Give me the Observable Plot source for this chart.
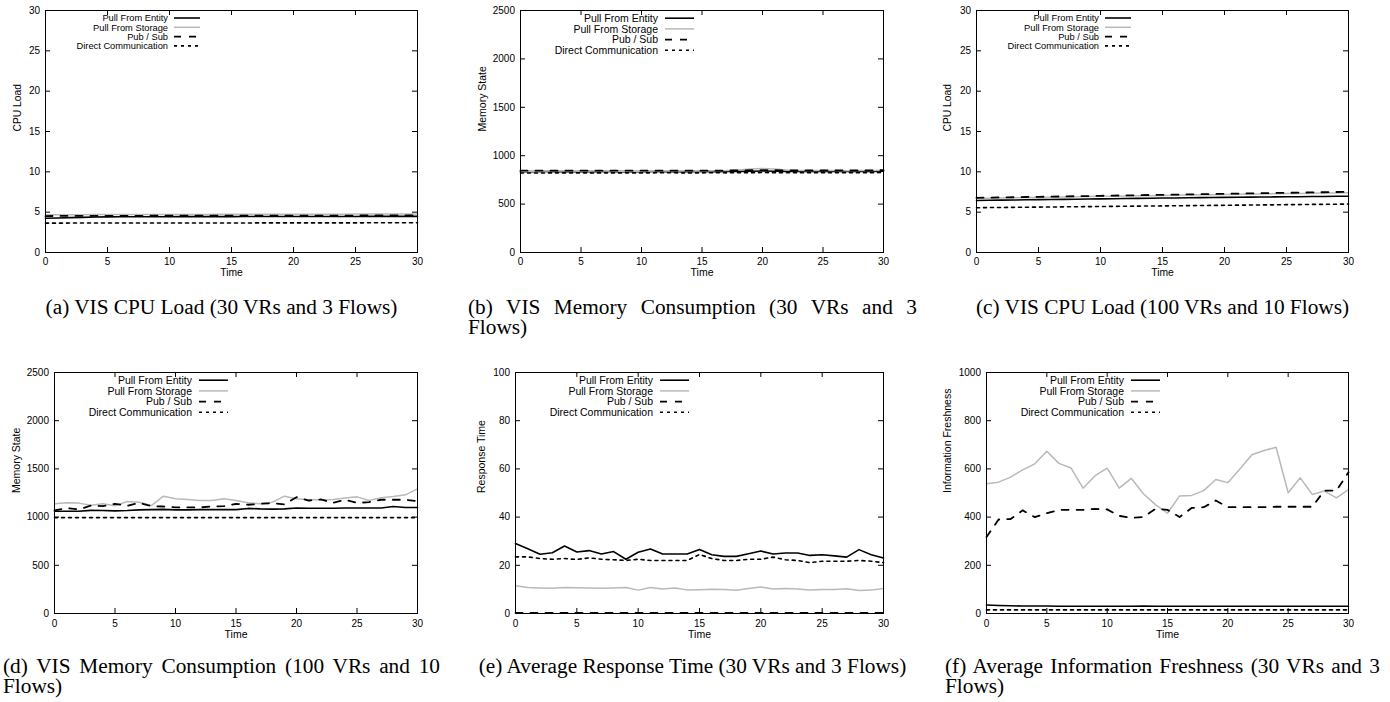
<!DOCTYPE html>
<html><head><meta charset="utf-8">
<script src="https://cdn.jsdelivr.net/npm/d3@7"></script>
<script src="https://cdn.jsdelivr.net/npm/@observablehq/plot@0.6"></script>
<style>
html,body{margin:0;padding:0;background:#fff}
body{width:1390px;height:702px;position:relative;overflow:hidden}
.panel{position:absolute}
.cap{position:absolute;font-family:"Liberation Serif","Times New Roman",serif;font-size:21.3px;line-height:20px;color:#000}
.cap.c{text-align:center}
.cap.j{text-align:justify}
</style></head><body>
<script>
// ---------------- DATA ----------------
const time = [0,1,2,3,4,5,6,7,8,9,10,11,12,13,14,15,16,17,18,19,20,21,22,23,24,25,26,27,28,29,30];
const seriesNames = ["Pull From Entity","Pull From Storage","Pub / Sub","Direct Communication"];
const xTicks = [0,5,10,15,20,25,30];

// (a) VIS CPU Load (30 VRs and 3 Flows)
const aEntity  = [4.25,4.28,4.32,4.36,4.40,4.42,4.43,4.43,4.44,4.44,4.44,4.45,4.45,4.45,4.45,4.45,4.46,4.46,4.46,4.46,4.46,4.47,4.47,4.47,4.47,4.47,4.48,4.48,4.48,4.48,4.48];
const aStorage = [4.68,4.68,4.69,4.69,4.70,4.70,4.70,4.71,4.71,4.71,4.72,4.72,4.72,4.72,4.73,4.73,4.73,4.73,4.74,4.74,4.74,4.74,4.75,4.75,4.75,4.76,4.76,4.76,4.77,4.77,4.78];
const aPubSub  = [4.52,4.53,4.53,4.54,4.54,4.55,4.55,4.55,4.55,4.56,4.56,4.56,4.56,4.56,4.57,4.57,4.57,4.57,4.57,4.57,4.58,4.58,4.58,4.58,4.58,4.58,4.59,4.59,4.59,4.59,4.60];
const aDirect  = [3.64,3.64,3.65,3.65,3.65,3.65,3.65,3.65,3.66,3.66,3.66,3.66,3.66,3.66,3.66,3.66,3.66,3.67,3.67,3.67,3.67,3.67,3.67,3.67,3.67,3.67,3.68,3.68,3.68,3.68,3.68];
const aTicks = [0,5,10,15,20,25,30];

// (b) VIS Memory Consumption (30 VRs and 3 Flows)
const bEntity  = [835,835,836,836,835,835,835,836,835,835,835,836,836,835,835,836,836,837,838,840,842,840,838,837,838,838,838,837,838,838,840];
const bStorage = [838,840,842,845,843,840,841,842,840,839,840,842,843,842,841,842,844,846,852,862,868,862,852,848,846,848,846,845,846,848,850];
const bPubSub  = [845,845,846,845,845,845,846,845,845,845,846,845,846,845,845,845,846,847,848,850,852,850,848,847,848,848,848,847,848,848,850];
const bDirect  = [822,822,822,823,822,823,822,823,822,823,822,823,824,823,822,823,824,823,824,825,826,825,824,825,824,825,824,825,824,825,826];
const bTicks = [0,500,1000,1500,2000,2500];

// (c) VIS CPU Load (100 VRs and 10 Flows)
const cEntity  = [6.45,6.47,6.49,6.51,6.53,6.55,6.57,6.59,6.61,6.63,6.65,6.67,6.69,6.71,6.73,6.75,6.76,6.78,6.80,6.82,6.83,6.85,6.86,6.88,6.89,6.91,6.92,6.94,6.95,6.97,6.98];
const cStorage = [6.72,6.74,6.76,6.79,6.81,6.84,6.86,6.89,6.91,6.94,6.96,6.98,7.01,7.03,7.05,7.08,7.10,7.12,7.15,7.17,7.19,7.21,7.24,7.26,7.28,7.30,7.32,7.35,7.37,7.39,7.41];
const cPubSub  = [6.78,6.80,6.83,6.85,6.88,6.90,6.93,6.95,6.98,7.00,7.03,7.05,7.08,7.10,7.13,7.15,7.18,7.20,7.23,7.25,7.28,7.30,7.33,7.35,7.38,7.40,7.42,7.45,7.47,7.50,7.52];
const cDirect  = [5.55,5.57,5.58,5.60,5.61,5.63,5.64,5.66,5.67,5.69,5.70,5.72,5.73,5.75,5.76,5.78,5.79,5.81,5.82,5.84,5.85,5.87,5.88,5.90,5.91,5.93,5.94,5.96,5.97,5.99,6.00];
const cTicks = [0,5,10,15,20,25,30];

// (d) VIS Memory Consumption (100 VRs and 10 Flows)
const dEntity  = [1060,1060,1060,1070,1068,1065,1068,1075,1078,1080,1075,1075,1078,1078,1078,1078,1090,1085,1083,1085,1095,1092,1092,1092,1095,1095,1095,1095,1110,1100,1100];
const dStorage = [1138,1148,1145,1124,1138,1117,1162,1155,1120,1217,1190,1183,1172,1172,1190,1172,1148,1138,1155,1217,1190,1180,1180,1183,1197,1210,1172,1200,1214,1231,1293];
const dPubSub  = [1069,1093,1079,1120,1114,1138,1117,1148,1114,1110,1100,1100,1100,1110,1114,1138,1128,1138,1145,1131,1207,1172,1183,1148,1180,1148,1155,1180,1180,1180,1166];
const dDirect  = [995,995,995,995,995,995,995,995,995,995,995,995,995,995,995,995,995,995,995,995,995,995,995,995,995,995,995,995,995,995,995];
const dTicks = [0,500,1000,1500,2000,2500];

// (e) Average Response Time (30 VRs and 3 Flows)
const eEntity  = [29.0,26.9,24.6,25.2,28.0,25.5,26.1,24.7,25.7,22.5,25.4,26.8,24.7,24.7,24.7,26.6,24.4,23.7,23.7,24.8,25.9,24.7,25.1,25.1,24.1,24.4,23.9,23.4,26.5,24.4,23.0];
const eStorage = [11.5,10.8,10.6,10.5,10.8,10.7,10.6,10.5,10.6,10.8,9.7,10.8,10.2,10.6,9.8,9.9,10.1,10.0,9.6,10.4,11.0,10.2,10.4,10.2,9.8,10.0,10.0,10.3,9.5,9.7,10.4];
const ePubSub  = [0.3,0.3,0.3,0.3,0.3,0.3,0.3,0.3,0.3,0.3,0.3,0.3,0.3,0.3,0.3,0.3,0.3,0.3,0.3,0.3,0.3,0.3,0.3,0.3,0.3,0.3,0.3,0.3,0.3,0.3,0.3];
const eDirect  = [23.5,23.5,22.8,22.5,22.8,22.4,23.1,22.5,22.3,22.0,22.5,22.0,22.0,22.0,22.0,24.5,22.8,22.0,22.0,22.5,22.5,23.4,22.3,22.0,21.1,21.7,21.7,21.7,22.0,21.7,21.1];
const eTicks = [0,20,40,60,80,100];

// (f) Average Information Freshness (30 VRs and 3 Flows)
const fEntity  = [35,33,32,31,31,31,30,30,30,30,30,30,30,31,30,30,30,30,30,30,30,30,30,30,30,30,30,30,30,30,30];
const fStorage = [538,545,566,596,621,673,623,604,520,572,603,520,561,497,452,416,488,490,510,556,543,600,659,676,690,501,563,494,508,480,514];
const fPubSub  = [317,390,392,428,400,416,430,430,430,434,432,405,397,400,434,430,400,438,441,469,441,441,441,441,443,443,443,443,510,510,586];
const fDirect  = [15,15,15,15,15,15,15,15,15,15,15,15,15,15,15,15,15,15,15,15,15,15,15,15,15,15,15,15,15,15,15];
const fTicks = [0,200,400,600,800,1000];

// ---------------- STYLE / LAYOUT ----------------
const seriesStyle = [
  {stroke:"#000", width:1.6, dash:null},
  {stroke:"#b9b9b9", width:1.5, dash:null},
  {stroke:"#000", width:1.8, dash:"7,8"},
  {stroke:"#000", width:1.6, dash:"3,4"}
];
const legSmall = {fs:9.3, tx:123, s1:129, s2:155, y0:8, dy:9.3};
const legLarge = {fs:10.5, tx:138, s1:145, s2:174, y0:8.2, dy:10.7};

const panels = [
  {series:[aEntity,aStorage,aPubSub,aDirect], yTicks:aTicks, ylabel:"CPU Load", left:0, top:0, w:440, h:285, fl:45, fr:417, ft:10, fb:252, ylx:-28, tp:5, tdy:20, leg:legSmall, lfs:10.3},
  {series:[bEntity,bStorage,bPubSub,bDirect], yTicks:bTicks, ylabel:"Memory State", left:460, top:0, w:440, h:285, fl:520, fr:883, ft:10, fb:252, ylx:-38, tp:5, tdy:20, leg:legLarge, lfs:10.5},
  {series:[cEntity,cStorage,cPubSub,cDirect], yTicks:cTicks, ylabel:"CPU Load", left:920, top:0, w:470, h:285, fl:976, fr:1348, ft:10, fb:252, ylx:-29, tp:5, tdy:20, leg:legSmall, lfs:10.3},
  {series:[dEntity,dStorage,dPubSub,dDirect], yTicks:dTicks, ylabel:"Memory State", left:0, top:340, w:440, h:300, fl:54, fr:417, ft:372, fb:613, ylx:-38, tp:6, tdy:21, leg:legLarge, lfs:10.5},
  {series:[eEntity,eStorage,ePubSub,eDirect], yTicks:eTicks, ylabel:"Response Time", left:460, top:340, w:440, h:300, fl:515, fr:883, ft:372, fb:613, ylx:-34, tp:6, tdy:21, leg:legLarge, lfs:10.5},
  {series:[fEntity,fStorage,fPubSub,fDirect], yTicks:fTicks, ylabel:"Information Freshness", left:920, top:340, w:470, h:300, fl:986, fr:1348, ft:372, fb:613, ylx:-39, tp:6, tdy:21, leg:legLarge, lfs:10.5}
];

const captions = [
  {text:"(a) VIS CPU Load (30 VRs and 3 Flows)", left:3, width:437, top:297, cls:"c"},
  {text:"(b) VIS Memory Consumption (30 VRs and 3 Flows)", left:468, width:449, top:297, cls:"j"},
  {text:"(c) VIS CPU Load (100 VRs and 10 Flows)", left:945, width:435, top:297, cls:"c"},
  {text:"(d) VIS Memory Consumption (100 VRs and 10 Flows)", left:3, width:437, top:656, cls:"j"},
  {text:"(e) Average Response Time (30 VRs and 3 Flows)", left:468, width:449, top:656, cls:"c"},
  {text:"(f) Average Information Freshness (30 VRs and 3 Flows)", left:945, width:435, top:656, cls:"j"}
];

const FONT = "'Liberation Sans', Arial, Helvetica, sans-serif";
const TICK = 5;

panels.forEach(p => {
  const mL = p.fl - p.left, mR = p.left + p.w - p.fr, mT = p.ft - p.top, mB = p.top + p.h - p.fb;
  const pw = p.fr - p.fl, ph = p.fb - p.ft;
  const yMax = p.yTicks[p.yTicks.length - 1];
  const lineMarks = p.series.map((vals, i) => {
    const rows = time.map((t, k) => ({t, v: vals[k]}));
    const st = seriesStyle[i];
    return Plot.line(rows, {x:"t", y:"v", stroke:st.stroke, strokeWidth:st.width, strokeDasharray:st.dash, strokeLinejoin:"round"});
  });
  const chart = Plot.plot({
    width:p.w, height:p.h, marginLeft:mL, marginRight:mR, marginTop:mT, marginBottom:mB,
    x:{domain:[0,30]}, y:{domain:[0,yMax]},
    style:{fontFamily:FONT, fontSize:"10px", background:"transparent", color:"#000", overflow:"visible"},
    marks:[
      Plot.tickY(p.yTicks, {y:d=>d, insetRight:pw-TICK, stroke:"#000", strokeWidth:1}),
      Plot.tickY(p.yTicks, {y:d=>d, insetLeft:pw-TICK, stroke:"#000", strokeWidth:1}),
      Plot.tickX(xTicks, {x:d=>d, insetTop:ph-TICK, stroke:"#000", strokeWidth:1}),
      Plot.tickX(xTicks, {x:d=>d, insetBottom:ph-TICK, stroke:"#000", strokeWidth:1}),
      ...lineMarks,
      Plot.frame({stroke:"#000", strokeWidth:1}),
      Plot.axisY({ticks:p.yTicks, tickSize:0, tickPadding:5.5, label:null, fontSize:10, tickFormat:d=>String(d)}),
      Plot.axisX({ticks:xTicks, tickSize:0, tickPadding:p.tp, label:null, fontSize:10, tickFormat:d=>String(d)}),
      Plot.text([p.ylabel], {text:d=>d, frameAnchor:"left", dx:p.ylx, rotate:-90, lineAnchor:"middle", fontSize:p.lfs, fill:"#000"}),
      Plot.text(["Time"], {text:d=>d, frameAnchor:"bottom", dy:p.tdy, lineAnchor:"middle", fontSize:p.lfs, fill:"#000"})
    ]
  });
  const svg = d3.select(chart);
  const lg = p.leg;
  const g = svg.append("g").attr("font-family", FONT).attr("font-size", lg.fs);
  seriesNames.forEach((name, i) => {
    const y = mT + lg.y0 + i * lg.dy;
    g.append("text").attr("x", mL + lg.tx).attr("y", y).attr("text-anchor","end").attr("dy","0.35em").attr("fill","#000").text(name);
    const st = seriesStyle[i];
    const ln = g.append("line").attr("x1", mL + lg.s1).attr("x2", mL + lg.s2).attr("y1", y).attr("y2", y)
      .attr("stroke", st.stroke).attr("stroke-width", st.width);
    if (st.dash) ln.attr("stroke-dasharray", st.dash);
  });
  const div = document.createElement("div");
  div.className = "panel";
  div.style.left = p.left + "px";
  div.style.top = p.top + "px";
  div.appendChild(chart);
  document.body.appendChild(div);
});

captions.forEach(c => {
  const d = document.createElement("div");
  d.className = "cap " + c.cls;
  d.style.left = c.left + "px";
  d.style.top = c.top + "px";
  d.style.width = c.width + "px";
  d.textContent = c.text;
  document.body.appendChild(d);
});
</script>
</body></html>
